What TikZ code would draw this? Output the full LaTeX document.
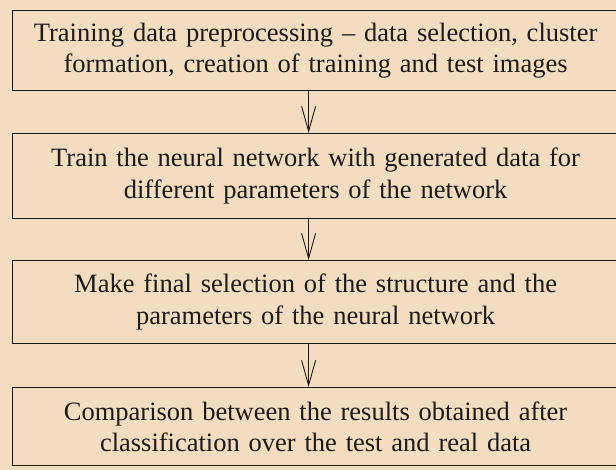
\documentclass[tikz,border=0pt]{standalone}
\usepackage{fontspec}
\setmainfont{Liberation Serif}
\usetikzlibrary{arrows.meta}
\definecolor{paper}{RGB}{242,221,193}
\definecolor{ink}{RGB}{30,26,24}
\tikzset{
  stage/.style={draw=ink, line width=1.2pt, rectangle, anchor=north west,
    inner sep=0pt, text=ink, font=\fontsize{26.5}{31.5}\selectfont,
    align=center, text width=606pt, minimum width=606pt},
  flow/.style={draw=ink, line width=0.9pt,
    -{Straight Barb[length=25pt,width=14pt,line width=0.9pt]}},
}
\begin{document}
\begin{tikzpicture}[x=1pt,y=1pt]
  \fill[paper] (0,0) rectangle (616,470);
  \useasboundingbox (0,0) rectangle (616,470);
  \clip (0,0) rectangle (616,470);

  \node[stage, minimum height=80pt] (b1) at (12,460)
    {Training data preprocessing -- data selection, cluster\\
     formation, creation of training and test images};
  \node[stage, minimum height=85pt] (b2) at (12,337)
    {Train the neural network with generated data for\\
     different parameters of the network};
  \node[stage, minimum height=83pt] (b3) at (12,210)
    {Make final selection of the structure and the\\
     parameters of the neural network};
  \node[stage, minimum height=78pt] (b4) at (12,83)
    {Comparison between the results obtained after\\
     classification over the test and real data};

  \draw[flow] ([xshift=-7pt]b1.south) -- ([xshift=-7pt]b2.north);
  \draw[flow] ([xshift=-7pt]b2.south) -- ([xshift=-7pt]b3.north);
  \draw[flow] ([xshift=-7pt]b3.south) -- ([xshift=-7pt]b4.north);
\end{tikzpicture}
\end{document}
